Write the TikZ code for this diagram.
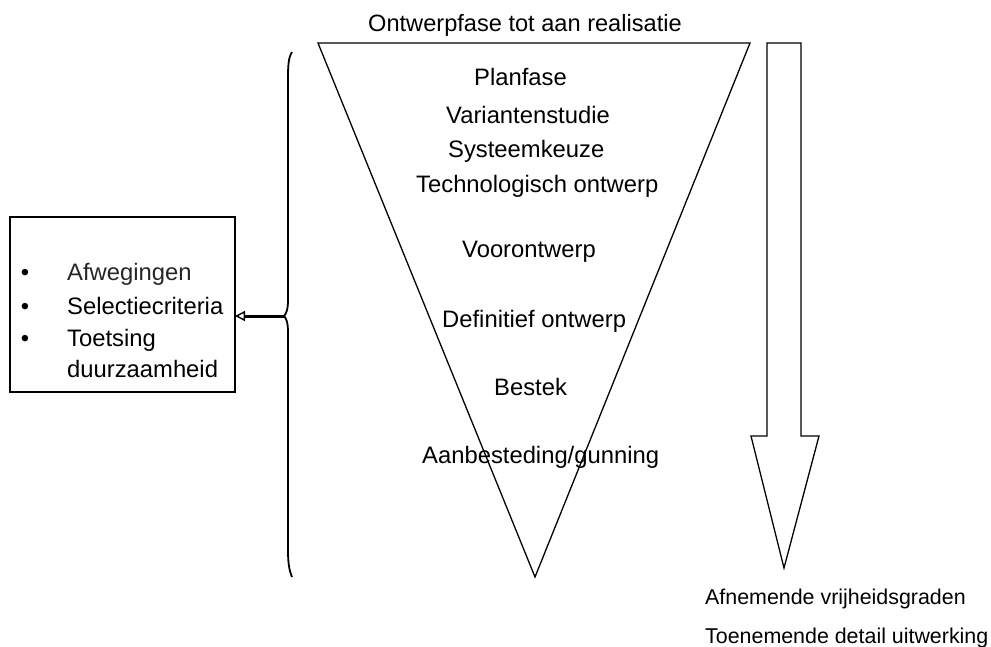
\documentclass[tikz,border=0pt]{standalone}
\usepackage{fontspec}
\setmainfont{Liberation Sans}
\usetikzlibrary{arrows.meta}
\begin{document}
\begin{tikzpicture}[x=1pt,y=-1pt,line join=miter,
  lbl/.style={anchor=base west,inner sep=0pt,font=\fontsize{23.8}{27}\selectfont},
  ttl/.style={anchor=base west,inner sep=0pt,font=\fontsize{23.6}{27}\selectfont},
  small/.style={anchor=base west,inner sep=0pt,font=\fontsize{21.4}{25}\selectfont},
  bul/.style={anchor=base,inner sep=0pt,font=\fontsize{23.8}{27}\selectfont},
  shape line/.style={line width=1.3pt}]
\useasboundingbox (0,0) rectangle (991,646);
% funnel
\coordinate (tl) at (318,43);
\coordinate (tr) at (750,43);
\coordinate (tip) at (535,577);
\draw[shape line] (tl) -- (tr) -- (tip) -- cycle;
\node[ttl] (title) at (368,31) {Ontwerpfase tot aan realisatie};
\node[lbl] (p1) at (474,85) {Planfase};
\node[lbl] (p2) at (446,123) {Variantenstudie};
\node[lbl] (p3) at (448,157) {Systeemkeuze};
\node[lbl] (p4) at (416,192) {Technologisch ontwerp};
\node[lbl] (p5) at (462,257) {Voorontwerp};
\node[lbl] (p6) at (442,327) {Definitief ontwerp};
\node[lbl] (p7) at (494,395) {Bestek};
\node[lbl] (p8) at (422,463) {Aanbesteding/gunning};
% left box
\node[draw,line width=1.1pt,minimum width=225pt,minimum height=175pt,inner sep=0pt,outer sep=0pt] (box) at (122.5,304.5) {};
\node[bul] (b1) at (25,280) {•};
\node[bul] (b2) at (25,314) {•};
\node[bul] (b3) at (25,346) {•};
\node[lbl,text=black!85] (t1) at (67,280) {Afwegingen};
\node[lbl] (t2) at (67,314) {Selectiecriteria};
\node[lbl] (t3) at (67,346) {Toetsing};
\node[lbl] (t4) at (67,377) {duurzaamheid};
% brace
\coordinate (bt) at (284,316);
\draw[line width=1.8pt] (292,52) .. controls (288,58) and (288,68) .. (288,80)
  -- (288,300) .. controls (288,310) and (286,314) .. (bt)
  .. controls (286,318) and (288,322) .. (288,332)
  -- (288,550) .. controls (288,562) and (289,570) .. (292,577);
\draw[line width=3pt,-{Triangle[open,length=10pt,width=10pt,line width=1.4pt]}] (bt) -- (box.east |- bt);
% big arrow
\coordinate (a1) at (767,43);
\coordinate (a2) at (801,43);
\coordinate (a3) at (801,436);
\coordinate (a4) at (819,436);
\coordinate (a5) at (784,568);
\coordinate (a6) at (751,436);
\coordinate (a7) at (767,436);
\draw[shape line] (a1) -- (a2) -- (a3) -- (a4) -- (a5) -- (a6) -- (a7) -- cycle;
\node[small] (r1) at (705,604) {Afnemende vrijheidsgraden};
\node[small] (r2) at (705,643) {Toenemende detail uitwerking};
\end{tikzpicture}
\end{document}
